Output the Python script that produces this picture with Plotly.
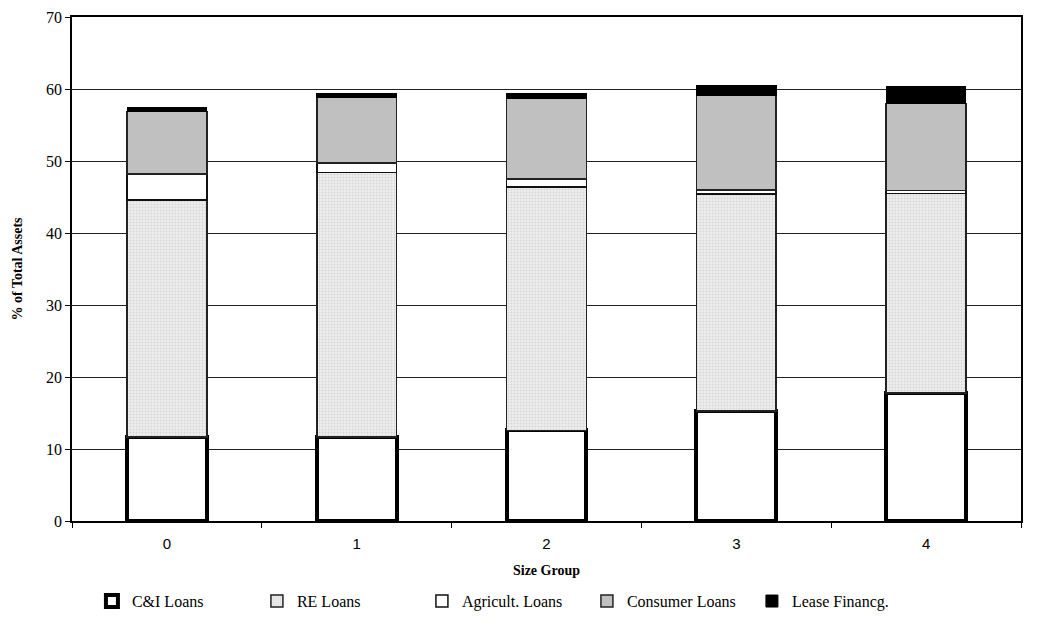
import plotly.graph_objects as go

# Loan composition by bank size group (% of total assets)
size_groups = ["0", "1", "2", "3", "4"]
ci_loans = [11.7, 11.7, 12.6, 15.3, 17.8]
re_loans = [32.9, 36.7, 33.8, 30.1, 27.7]
agri_loans = [3.6, 1.3, 1.1, 0.6, 0.4]
consumer_loans = [8.7, 9.1, 11.2, 13.1, 12.1]
lease_fin = [0.5, 0.6, 0.7, 1.4, 2.3]

SERIF = "Liberation Serif"
NARROW = "Liberation Sans Narrow"

fig = go.Figure()
fig.add_bar(name="C&I Loans", x=size_groups, y=ci_loans,
            marker=dict(color="white", line=dict(color="black", width=4)))
fig.add_bar(name="RE Loans", x=size_groups, y=re_loans,
            marker=dict(color="#ebebeb", line=dict(color="#222222", width=1.5),
                        pattern=dict(shape=".", fgcolor="#bdbdbd", bgcolor="#ededed",
                                     size=3, solidity=0.3)))
fig.add_bar(name="Agricult. Loans", x=size_groups, y=agri_loans,
            marker=dict(color="white", line=dict(color="#111111", width=1.5)))
fig.add_bar(name="Consumer Loans", x=size_groups, y=consumer_loans,
            marker=dict(color="#c0c0c0", line=dict(color="#222222", width=1.5)))
fig.add_bar(name="Lease Financg.", x=size_groups, y=lease_fin,
            marker=dict(color="black", line=dict(color="black", width=1)))

fig.update_layout(
    barmode="stack",
    bargap=0.58,
    width=1038, height=626,
    margin=dict(l=72, r=17, t=17, b=105, autoexpand=False),
    paper_bgcolor="white", plot_bgcolor="white",
    font=dict(family=SERIF, size=14, color="black"),
    showlegend=True,
    legend=dict(orientation="h", x=0.021, xanchor="left", y=-0.159, yanchor="middle",
                font=dict(family=SERIF, size=16), traceorder="normal",
                entrywidth=120, itemwidth=30),
    xaxis=dict(type="category",
               title=dict(text="<b>Size Group</b>", font=dict(family=SERIF, size=14), standoff=14),
               showline=True, linecolor="black", linewidth=1.5, mirror=True,
               ticks="outside", tickson="boundaries", ticklen=5, tickcolor="black",
               ticklabelstandoff=8,
               tickfont=dict(family=NARROW + ", Liberation Sans", size=15)),
    yaxis=dict(range=[0, 70], dtick=10,
               title=dict(text="<b>% of Total Assets</b>", font=dict(family=SERIF, size=14), standoff=20),
               showline=True, linecolor="black", linewidth=1.5, mirror=True,
               ticks="outside", ticklen=5, tickcolor="black",
               showgrid=True, gridcolor="#222222", gridwidth=1,
               tickfont=dict(family=SERIF, size=16), zeroline=False),
)

fig.write_html("out.html")
